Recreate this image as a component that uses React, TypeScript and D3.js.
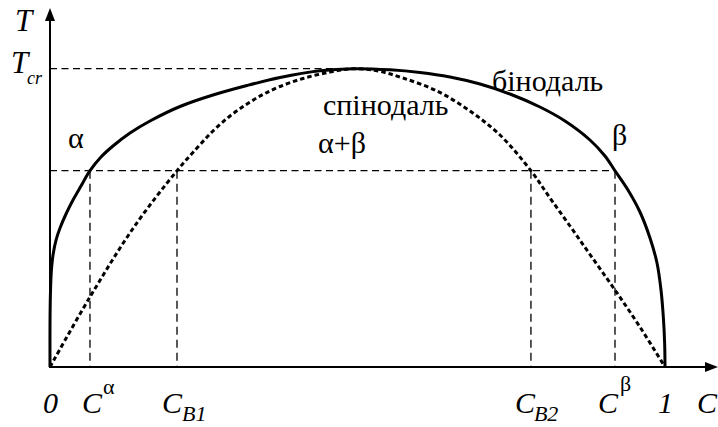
import React from "react";
import * as d3 from "d3";

// Binodal (solid) — composition C vs. reduced temperature T/Tcr
const binodalC = [0, 0, 0.00065, 0.0021, 0.0049, 0.0098, 0.0163, 0.026, 0.0374, 0.0504, 0.065, 0.0829, 0.1024, 0.1301, 0.1626, 0.2114, 0.265, 0.3203, 0.374, 0.439, 0.493, 0.5528, 0.6016, 0.6504, 0.6992, 0.748, 0.7967, 0.8374, 0.878, 0.9024, 0.9187, 0.9398, 0.9593, 0.9756, 0.987, 0.9935, 0.9976, 0.9995, 1];
const binodalT = [0, 0.1408, 0.2414, 0.3185, 0.3755, 0.4257, 0.466, 0.5129, 0.5598, 0.6068, 0.658, 0.704, 0.7409, 0.7844, 0.8247, 0.8733, 0.9118, 0.9437, 0.9705, 0.993, 1.0, 0.9963, 0.9873, 0.9722, 0.9487, 0.9152, 0.8716, 0.8247, 0.761, 0.7073, 0.658, 0.5934, 0.5196, 0.4325, 0.3486, 0.2581, 0.1576, 0.0738, 0];

// Spinodal (dotted)
const spinodalC = [0, 0.065, 0.1366, 0.2065, 0.239, 0.265, 0.2927, 0.3203, 0.3463, 0.374, 0.4114, 0.4553, 0.493, 0.5333, 0.574, 0.6293, 0.6829, 0.7317, 0.782, 0.813, 0.8455, 0.878, 0.9187, 0.9593, 1];
const spinodalT = [0, 0.2347, 0.4693, 0.658, 0.7342, 0.7911, 0.8414, 0.8817, 0.9135, 0.9403, 0.9671, 0.9889, 1.0, 0.9923, 0.9688, 0.9252, 0.8582, 0.7777, 0.658, 0.5665, 0.4727, 0.3771, 0.2581, 0.1341, 0];

// Tie-line temperature and the compositions marked on the C axis
const tieT = 0.658;
const criticalC = 0.493;
const markC = { alpha: 0.065, b1: 0.2065, b2: 0.782, beta: 0.9187 };

const W = 718;
const H = 427;
const SERIF = "Liberation Serif";

type LabelProps = {
  x: number;
  y: number;
  size: number;
  italic?: boolean;
  children: React.ReactNode;
};

function Label({ x, y, size, italic, children }: LabelProps) {
  return (
    <text
      x={x}
      y={y}
      fill="#000"
      fontSize={size}
      fontStyle={italic ? "italic" : "normal"}
      style={{ fontFamily: SERIF }}
    >
      {children}
    </text>
  );
}

export default function App() {
  const x = d3.scaleLinear().domain([0, 1]).range([50, 665]);
  const y = d3.scaleLinear().domain([0, 1]).range([367, 68.7]);

  const line = d3
    .line<[number, number]>()
    .x((d) => x(d[0]))
    .y((d) => y(d[1]))
    .curve(d3.curveCatmullRom.alpha(0.5));

  const binodal = line(binodalC.map((c, i) => [c, binodalT[i]]) as [number, number][]) || "";
  const spinodal = line(spinodalC.map((c, i) => [c, spinodalT[i]]) as [number, number][]) || "";

  const x0 = x(0);
  const y0 = y(0);

  return (
    <svg width={W} height={H} style={{ position: "absolute", left: 0, top: 0 }}>
      {/* guide lines */}
      <g stroke="#000" strokeWidth={1.3} fill="none">
        <line x1={x0} y1={y(1)} x2={x(criticalC)} y2={y(1)} strokeDasharray="7,4.5" />
        <line x1={x0} y1={y(tieT)} x2={x(markC.beta)} y2={y(tieT)} strokeDasharray="7,4.5" />
        {[markC.alpha, markC.b1, markC.b2, markC.beta].map((c, i) => (
          <line key={i} x1={x(c)} y1={y(tieT)} x2={x(c)} y2={y0} strokeDasharray="8,5" />
        ))}
      </g>

      {/* curves */}
      <path d={spinodal} fill="none" stroke="#000" strokeWidth={3} strokeDasharray="4.5,3" />
      <path d={binodal} fill="none" stroke="#000" strokeWidth={3} />

      {/* axes */}
      <g stroke="#000" strokeWidth={2}>
        <line x1={x0} y1={y0} x2={x0} y2={18} />
        <line x1={x0 - 1} y1={y0} x2={708} y2={y0} />
      </g>
      <path d={`M${x0},8 L${x0 - 5},21 L${x0 + 5},21 Z`} fill="#000" />
      <path d={`M718,${y0} L705,${y0 - 5} L705,${y0 + 5} Z`} fill="#000" />

      {/* axis titles */}
      <Label x={15} y={31} size={31} italic>T</Label>
      <Label x={11} y={73} size={31} italic>T</Label>
      <Label x={27} y={84} size={18} italic>cr</Label>
      <Label x={697} y={413} size={30} italic>C</Label>
      <Label x={x(0) - 7} y={413} size={30} italic>0</Label>
      <Label x={x(1) - 7} y={413} size={30} italic>1</Label>

      {/* composition labels on the C axis */}
      <Label x={x(markC.alpha) - 8} y={413} size={30} italic>C</Label>
      <Label x={x(markC.alpha) + 13} y={394} size={22}>α</Label>

      <Label x={x(markC.b1) - 15} y={413} size={30} italic>C</Label>
      <Label x={x(markC.b1) + 5} y={421} size={22} italic>B1</Label>

      <Label x={x(markC.b2) - 16} y={413} size={30} italic>C</Label>
      <Label x={x(markC.b2) + 3} y={421} size={22} italic>B2</Label>

      <Label x={x(markC.beta) - 17} y={413} size={30} italic>C</Label>
      <Label x={x(markC.beta) + 5} y={391} size={22}>β</Label>

      {/* region and curve labels */}
      <Label x={68} y={148} size={30}>α</Label>
      <Label x={612} y={145} size={30}>β</Label>
      <Label x={318} y={153} size={30}>α+β</Label>
      <Label x={323} y={115} size={30}>спінодаль</Label>
      <Label x={492} y={91} size={30}>бінодаль</Label>
    </svg>
  );
}
